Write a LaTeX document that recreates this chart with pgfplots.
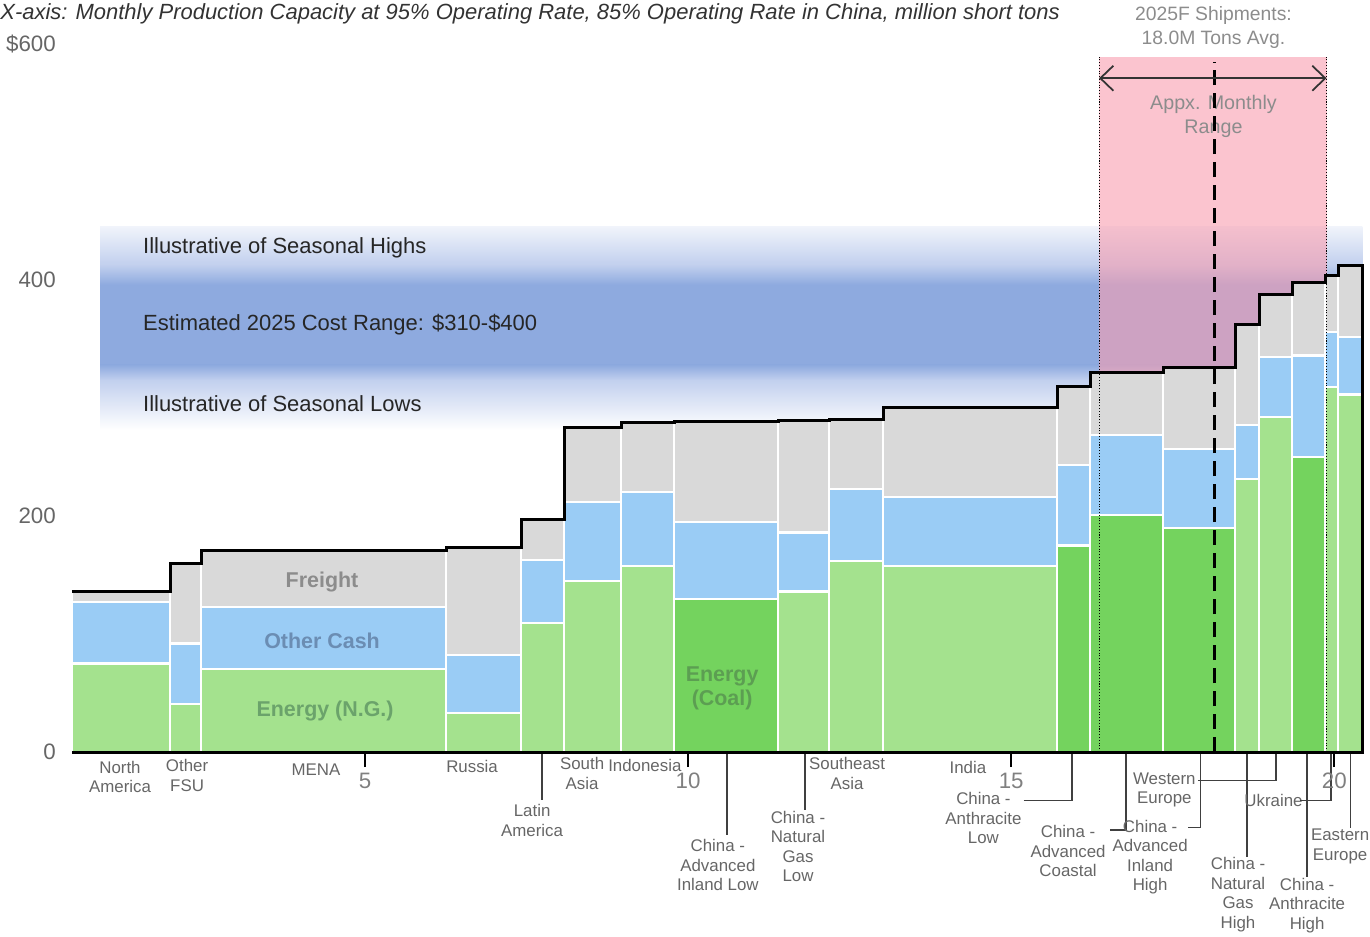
\documentclass[border=0pt]{standalone}
\usepackage{fontspec}
\setmainfont{Liberation Sans}
\usepackage{pgfplots}
\usepackage{pgfplotstable}
\pgfplotsset{compat=1.18}
\usetikzlibrary{arrows.meta}

\definecolor{cgray}{HTML}{D9D9D9}
\definecolor{cblue}{HTML}{9ACCF5}
\definecolor{clgreen}{HTML}{A4E28E}
\definecolor{cdgreen}{HTML}{74D35E}
\definecolor{band}{HTML}{8EAADF}
\definecolor{bandlt}{HTML}{C2D0EE}
\definecolor{cpink}{HTML}{F89DAF}
\definecolor{lblgray}{HTML}{666666}

% bar left edges (million short tons), cost components ($/short ton)
\pgfplotstableread{
x      energy other freight coal
0.464  75   52   9    0
1.981  41   51   68   0
2.461  70   53   48   0
6.254  33   49   91   0
7.415  109  54   34   0
8.080  145  67   63   0
8.963  158  62   59   0
9.783  130  65   85   1
11.393 136  50   95   0
12.183 162  61   59   0
13.019 158  58   76   0
15.712 175  68   67   1
16.223 201  68   53   1
17.353 190  67   69   1
18.467 231  46   85   0
18.839 284  51   53   0
19.350 250  86   62   1
19.861 309  47   48   0
20.062 303  49   60   0
20.433 0    0    0    0
}\costcurve

\begin{document}
\begin{tikzpicture}
\tikzset{
  lbl/.style={text=lblgray, align=center, inner sep=0pt, font=\fontsize{9.6}{11.1}\selectfont},
  leader/.style={draw=black!75, line width=0.85pt},
  segbar/.style={/tikz/ybar interval, draw=white, line width=1.2pt},
}
\useasboundingbox (-14.4mm,-36.8mm) rectangle (259.6mm,150.4mm);
\begin{axis}[
  scale only axis, width=258.4mm, height=141.6mm,
  xmin=0.464, xmax=20.46, ymin=0, ymax=600,
  clip=false, axis on top,
  axis x line*=bottom, axis y line*=left,
  x axis line style={line width=1.7pt, -},
  y axis line style={draw=none},
  xtick={5,10,15,20}, xticklabels={5,10,15,20},
  ytick={0,200,400,600}, yticklabels={0,200,400,\$600},
  xtick align=outside, major tick length=3mm,
  xtick style={black, line width=1.2pt},
  ytick style={draw=none},
  tick label style={text=lblgray, font=\fontsize{12.7}{14}\selectfont},
  xticklabel style={text=black!50},
  yticklabel style={xshift=-2mm},
  /pgf/number format/assume math mode=true,
]
% seasonal cost band
\shade[top color=bandlt!25, bottom color=bandlt] (axis cs:0.898,413) rectangle (axis cs:20.433,445);
\shade[top color=bandlt, bottom color=band] (axis cs:0.898,396) rectangle (axis cs:20.433,413);
\fill[band] (axis cs:0.898,328) rectangle (axis cs:20.433,396);
\shade[top color=band, bottom color=bandlt] (axis cs:0.898,315) rectangle (axis cs:20.433,328);
\shade[top color=bandlt, bottom color=white] (axis cs:0.898,273) rectangle (axis cs:20.433,315);
% monthly shipment range
\fill[cpink, fill opacity=0.6] (axis cs:16.36,0) rectangle (axis cs:19.88,589);

\addplot[segbar, fill=cgray] table[x=x, y expr=\thisrow{energy}+\thisrow{other}+\thisrow{freight}] {\costcurve};
\addplot[segbar, fill=cblue] table[x=x, y expr=\thisrow{energy}+\thisrow{other}] {\costcurve};
\addplot[segbar, fill=clgreen] table[x=x, y=energy] {\costcurve};
\addplot[segbar, fill=cdgreen] table[x=x, y expr=\thisrow{energy}*\thisrow{coal}] {\costcurve};
\addplot[const plot, black, line width=1.7pt] table[x=x, y expr=\thisrow{energy}+\thisrow{other}+\thisrow{freight}] {\costcurve};

% band text
\node[anchor=west, inner sep=0pt, text=black!85, font=\fontsize{12.5}{14}\selectfont] at (axis cs:1.56,427) {Illustrative of Seasonal Highs};
\node[anchor=west, inner sep=0pt, text=black!85, font=\fontsize{12.5}{14}\selectfont] at (axis cs:1.56,362) {Estimated 2025 Cost Range: \$310-\$400};
\node[anchor=west, inner sep=0pt, text=black!85, font=\fontsize{12.5}{14}\selectfont] at (axis cs:1.56,295) {Illustrative of Seasonal Lows};

% component labels
\node[text=black!45, font=\fontsize{12.2}{14}\bfseries] at (axis cs:4.334,144) {Freight};
\node[text={rgb,255:red,107;green,141;blue,179}, font=\fontsize{12.2}{14}\bfseries] at (axis cs:4.334,94) {Other Cash};
\node[text={rgb,255:red,107;green,163;blue,107}, font=\fontsize{12.2}{14}\bfseries] at (axis cs:4.381,35) {Energy (N.G.)};
\node[align=center, text={rgb,255:red,92;green,158;blue,82}, font=\fontsize{12.2}{13.7}\bfseries] at (axis cs:10.526,54) {Energy\\(Coal)};

% shipments annotation
\node[align=center, text=black!45, font=\fontsize{11.2}{13.7}\selectfont] at (axis cs:18.13,539) {Appx. Monthly\\Range};
\draw[line width=1.7pt, dash pattern=on 3mm off 1.6mm] (axis cs:18.15,0) -- (axis cs:18.15,585);
\draw[line width=0.6pt, densely dotted] (axis cs:16.36,0) -- (axis cs:16.36,589);
\draw[line width=0.6pt, densely dotted] (axis cs:19.88,0) -- (axis cs:19.88,589);
\draw[black!80, line width=1pt, {Straight Barb[length=2.6mm,width=5mm]}-{Straight Barb[length=2.6mm,width=5mm]}] (axis cs:16.36,571) -- (axis cs:19.88,571);
\node[align=center, text=black!45, font=\fontsize{11}{13.7}\selectfont] at (axis cs:18.13,614) {2025F Shipments:\\18.0M Tons Avg.};

% title
\node[anchor=west, inner sep=0pt, text=black!80, font=\fontsize{12.5}{14}\selectfont\itshape] at (axis cs:-0.650,626) {X-axis: Monthly Production Capacity at 95\% Operating Rate, 85\% Operating Rate in China, million short tons};

% category labels
\node[lbl] at (axis cs:1.207,-21) {North\\America};
\node[lbl] at (axis cs:2.245,-20) {Other\\FSU};
\node[lbl] at (axis cs:4.241,-15) {MENA};
\node[lbl] at (axis cs:6.656,-12) {Russia};
\node[lbl] at (axis cs:7.585,-58) {Latin\\America};
\draw[leader] (axis cs:7.74,-2) -- (axis cs:7.74,-41);
\node[lbl] at (axis cs:8.359,-18) {South\\Asia};
\node[lbl] at (axis cs:9.33,-11) {Indonesia};
\node[lbl] at (axis cs:10.46,-96) {China -\\Advanced\\Inland Low};
\draw[leader] (axis cs:10.60,-2) -- (axis cs:10.60,-70);
\node[lbl] at (axis cs:12.46,-18) {Southeast\\Asia};
\node[lbl] at (axis cs:11.70,-80) {China -\\Natural\\Gas\\Low};
\draw[leader] (axis cs:11.81,-2) -- (axis cs:11.81,-49);
\node[lbl] at (axis cs:14.33,-13) {India};
\node[lbl] at (axis cs:14.57,-56) {China -\\Anthracite\\Low};
\draw[leader] (axis cs:15.19,-41) -- (axis cs:15.94,-41) -- (axis cs:15.94,-2);
\node[lbl] at (axis cs:15.88,-84) {China -\\Advanced\\Coastal};
\draw[leader] (axis cs:16.53,-66) -- (axis cs:16.78,-66) -- (axis cs:16.78,-2);
\node[lbl] at (axis cs:17.15,-89) {China -\\Advanced\\Inland\\High};
\draw[leader] (axis cs:17.74,-64) -- (axis cs:17.93,-64) -- (axis cs:17.93,-2);
\node[lbl] at (axis cs:17.37,-32) {Western\\Europe};
\draw[leader] (axis cs:17.89,-24) -- (axis cs:19.10,-24) -- (axis cs:19.10,-2);
\node[lbl] at (axis cs:18.51,-121) {China -\\Natural\\Gas\\High};
\draw[leader] (axis cs:18.65,-2) -- (axis cs:18.65,-89);
\node[lbl] at (axis cs:19.06,-41) {Ukraine};
\draw[leader] (axis cs:19.47,-41) -- (axis cs:19.95,-41) -- (axis cs:19.95,-2);
\node[lbl] at (axis cs:19.58,-130) {China -\\Anthracite\\High};
\draw[leader] (axis cs:19.58,-2) -- (axis cs:19.58,-106);
\node[lbl] at (axis cs:20.09,-80) {Eastern\\Europe};
\draw[leader] (axis cs:20.25,-2) -- (axis cs:20.25,-64);
\end{axis}
\end{tikzpicture}
\end{document}
